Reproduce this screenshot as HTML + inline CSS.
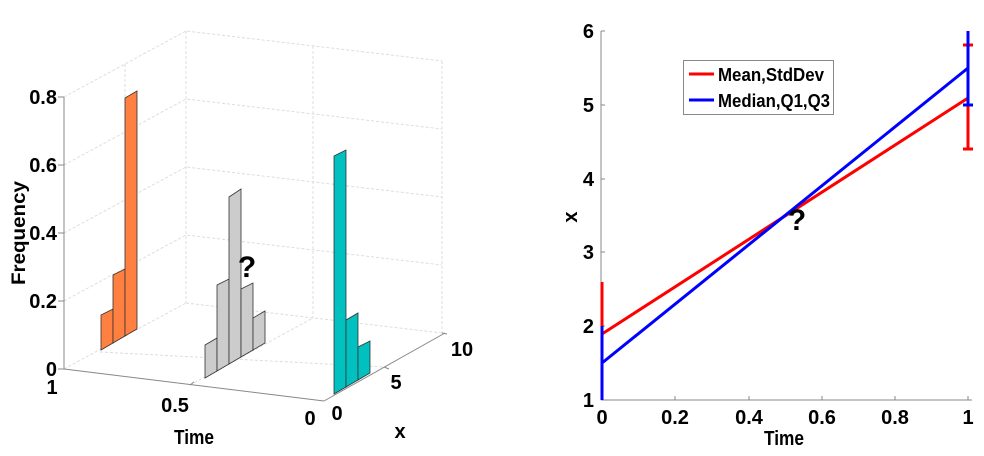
<!DOCTYPE html>
<html><head><style>body{margin:0;background:#fff}svg{display:block}text{font-family:"Liberation Sans",sans-serif;font-weight:bold;fill:#000}</style></head><body>
<svg width="984" height="456" xmlns="http://www.w3.org/2000/svg">
<g stroke="#ddd" stroke-width="1" fill="none" stroke-dasharray="3,2">
<line x1="186" y1="31" x2="186" y2="303"/><line x1="313" y1="46" x2="313" y2="318"/><line x1="442" y1="61" x2="442" y2="333"/>
<polyline points="64,97 186,31 442,61"/><polyline points="64,165 186,99 442,129"/><polyline points="64,233 186,167 442,197"/><polyline points="64,301 186,235 442,265"/>
<line x1="125" y1="64" x2="125" y2="336"/>
<line x1="64" y1="369" x2="186" y2="303"/><line x1="186" y1="303" x2="442" y2="333"/>
<line x1="190" y1="385" x2="313" y2="318"/><line x1="100" y1="352" x2="384" y2="367"/>
</g>
<g stroke="#888" stroke-width="1" fill="none">
<line x1="64" y1="97" x2="64" y2="369"/><line x1="64" y1="369" x2="324" y2="401"/><line x1="324" y1="401" x2="445" y2="333"/>
<line x1="58" y1="369" x2="64" y2="369"/><line x1="58" y1="301" x2="64" y2="301"/><line x1="58" y1="233" x2="64" y2="233"/><line x1="58" y1="165" x2="64" y2="165"/><line x1="58" y1="97" x2="64" y2="97"/>
<line x1="190" y1="385" x2="194" y2="382"/><line x1="384" y1="367" x2="389" y2="369"/><line x1="442" y1="333" x2="447" y2="334"/>
</g>
<g stroke="#333" stroke-width="0.8">
<g fill="#ff8040">
<polygon points="101,350 113,343 113,309 101,315"/><polygon points="113,343 125,336 125,269 113,275"/><polygon points="125,336 137,329 137,91 125,98"/>
</g>
<g fill="#cccccc">
<polygon points="205,378 217,371 217,338 205,345"/><polygon points="217,371 229,364 229,279 217,285"/><polygon points="229,364 241,357 241,189 229,197"/><polygon points="241,357 253,350 253,283 241,289"/><polygon points="253,350 265,343 265,311 253,318"/>
</g>
<g fill="#00c0c0">
<polygon points="334,394 346,387 346,150 334,156"/><polygon points="346,387 358,380 358,313 346,320"/><polygon points="358,380 370,373 370,341 358,347"/>
</g>
</g>
<text x="247" y="277" font-size="30" text-anchor="middle">?</text>
<g font-size="20" text-anchor="end">
<text x="57" y="376">0</text><text x="57" y="308">0.2</text><text x="57" y="240">0.4</text><text x="57" y="172">0.6</text><text x="57" y="104">0.8</text>
</g>
<text transform="translate(25,233) rotate(-90)" font-size="19" text-anchor="middle" textLength="104" lengthAdjust="spacingAndGlyphs">Frequency</text>
<g font-size="20" text-anchor="middle">
<text x="52" y="394">1</text><text x="175" y="412">0.5</text><text x="310" y="425">0</text>
<text x="194" y="444" textLength="40" lengthAdjust="spacingAndGlyphs">Time</text>
<text x="337" y="420">0</text><text x="396" y="389">5</text><text x="462" y="356">10</text><text x="400" y="438">x</text>
</g>
<g stroke="#888" stroke-width="1">
<line x1="601" y1="31" x2="601" y2="400"/><line x1="601" y1="400" x2="972" y2="400"/>
<line x1="601" y1="31" x2="605" y2="31"/><line x1="601" y1="105" x2="605" y2="105"/><line x1="601" y1="179" x2="605" y2="179"/><line x1="601" y1="252" x2="605" y2="252"/><line x1="601" y1="326" x2="605" y2="326"/>
<line x1="675" y1="400" x2="675" y2="396"/><line x1="749" y1="400" x2="749" y2="396"/><line x1="822" y1="400" x2="822" y2="396"/><line x1="895" y1="400" x2="895" y2="396"/><line x1="968" y1="400" x2="968" y2="396"/>
</g>
<g fill="none" stroke-width="3">
<line x1="602" y1="334" x2="968" y2="98" stroke="#f00"/>
<line x1="602" y1="282" x2="602" y2="400" stroke="#f00"/>
<line x1="968" y1="45" x2="968" y2="149" stroke="#f00"/><line x1="963" y1="45" x2="973" y2="45" stroke="#f00"/><line x1="963" y1="149" x2="973" y2="149" stroke="#f00"/>
<line x1="602" y1="363" x2="968" y2="68" stroke="#00f"/>
<line x1="602" y1="326" x2="602" y2="400" stroke="#00f"/>
<line x1="968" y1="31" x2="968" y2="105" stroke="#00f"/><line x1="963" y1="105" x2="973" y2="105" stroke="#00f"/>
</g>
<text x="797" y="230" font-size="30" text-anchor="middle">?</text>
<g font-size="20" text-anchor="end">
<text x="594" y="407">1</text><text x="594" y="333">2</text><text x="594" y="259">3</text><text x="594" y="186">4</text><text x="594" y="112">5</text><text x="594" y="38">6</text>
</g>
<g font-size="20" text-anchor="middle">
<text x="602" y="424">0</text><text x="675" y="424">0.2</text><text x="749" y="424">0.4</text><text x="822" y="424">0.6</text><text x="895" y="424">0.8</text><text x="968" y="424">1</text>
<text x="784" y="445" textLength="40" lengthAdjust="spacingAndGlyphs">Time</text>
</g>
<text transform="translate(577,217) rotate(-90)" font-size="20" text-anchor="middle">x</text>
<rect x="683.5" y="60.5" width="150" height="54" fill="#fff" stroke="#888"/>
<line x1="689" y1="74" x2="714" y2="74" stroke="#f00" stroke-width="3"/>
<line x1="689" y1="100" x2="714" y2="100" stroke="#00f" stroke-width="3"/>
<text x="718" y="81" font-size="18" textLength="106" lengthAdjust="spacingAndGlyphs">Mean,StdDev</text>
<text x="718" y="107" font-size="18" textLength="112" lengthAdjust="spacingAndGlyphs">Median,Q1,Q3</text>
</svg>
</body></html>
